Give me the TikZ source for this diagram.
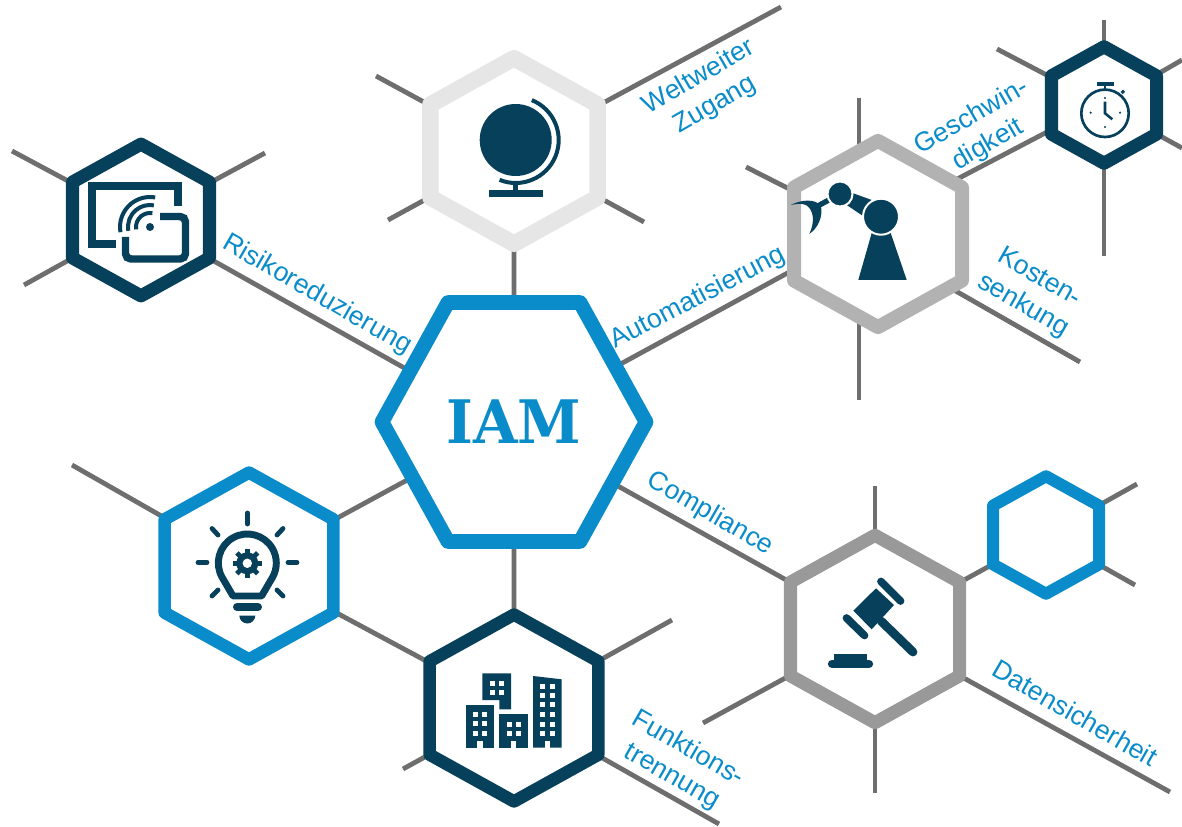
\documentclass[tikz,border=0pt]{standalone}
\usepackage{fontspec}
\setmainfont{Liberation Sans}
\newfontfamily\slabfont{DejaVu Serif}
\usetikzlibrary{shapes.geometric,backgrounds}

\definecolor{iamblue}{HTML}{0A8CCB}
\definecolor{iamdark}{HTML}{07405B}
\definecolor{linkgray}{HTML}{6E6E6E}
\definecolor{hexlight}{HTML}{E6E6E6}
\definecolor{hexmid}{HTML}{B2B2B2}
\definecolor{hexgray}{HTML}{999999}

\tikzset{
    hexbase/.style={regular polygon, regular polygon sides=6, draw, fill=white, line join=round, inner sep=0pt, outer sep=0pt, transform shape},
    hexcell/.style={hexbase, regular polygon rotate=30, yscale=0.96},
    link/.style={draw=linkgray, line width=3.6pt},
    lbl/.style={text=iamblue, align=center, inner sep=0pt, font=\fontsize{20}{24}\selectfont},
    icon/.style={fill=iamdark, draw=none},
    iconline/.style={draw=iamdark, fill=none},
    gap/.style={fill=white, draw=none}
}

\begin{document}
\begin{tikzpicture}[x=0.75pt, y=-0.75pt]
    \useasboundingbox (0,0) rectangle (1182,827);

    \node[hexbase, xscale=0.957, draw=iamblue, line width=11pt, minimum size=207pt, font=\slabfont\bfseries\fontsize{45}{45}\selectfont, text=iamblue] (hub) at (514,422) {IAM};
    \node[hexcell, draw=hexlight, line width=12.4pt, minimum size=145pt] (globe) at (514,151) {};
    \node[hexcell, draw=iamdark, line width=9.8pt, minimum size=118.6pt] (risk) at (141,220) {};
    \node[hexcell, draw=hexmid, line width=10.5pt, minimum size=145.5pt] (robot) at (878,234) {};
    \node[hexcell, draw=iamdark, line width=9.8pt, minimum size=91pt] (watch) at (1104,105) {};
    \node[hexcell, draw=iamblue, line width=9.4pt, minimum size=146pt] (bulb) at (249,566) {};
    \node[hexcell, draw=iamdark, line width=9.4pt, minimum size=146pt] (city) at (514,708) {};
    \node[hexcell, draw=hexgray, line width=9.8pt, minimum size=146.4pt] (gavel) at (875,629) {};
    \node[hexcell, draw=iamblue, line width=9pt, minimum size=91.8pt] (spare) at (1046,535) {};

    \coordinate (globeNW) at (376,76);
    \coordinate (globeSW) at (388,220);
    \coordinate (globeNE) at (781,7);
    \coordinate (globeSE) at (644,222);
    \coordinate (riskNW) at (12,151);
    \coordinate (riskNE) at (265,153);
    \coordinate (riskSW) at (24,285);
    \coordinate (riskSE) at (212,260);
    \coordinate (hubW) at (440,388);
    \coordinate (hubNE) at (560,397);
    \coordinate (hubSE) at (560,453.7);
    \coordinate (robotN) at (859,98);
    \coordinate (robotS) at (859,400);
    \coordinate (robotNW) at (746,167);
    \coordinate (robotW) at (850,239);
    \coordinate (robotNE) at (900,209);
    \coordinate (robotSEa) at (940,282);
    \coordinate (robotSE) at (1080,362);
    \coordinate (watchSW) at (1070,120);
    \coordinate (watchN) at (1104,20);
    \coordinate (watchS) at (1104,256);
    \coordinate (watchNW) at (997,49);
    \coordinate (watchNE) at (1182,60);
    \coordinate (watchSE) at (1182,148);
    \coordinate (bulbNW) at (72,465);
    \coordinate (cityNE) at (672,620);
    \coordinate (citySE) at (719,824);
    \coordinate (citySW) at (403,769);
    \coordinate (gavelN) at (875,486);
    \coordinate (gavelS) at (875,793);
    \coordinate (gavelNW) at (840,610);
    \coordinate (gavelSW) at (703,723);
    \coordinate (gavelSE) at (1170,792);
    \coordinate (spareNE) at (1137,484);
    \coordinate (spareSE) at (1135,585);

    \begin{scope}[on background layer]
        \draw[link] (globe) -- (globeNW);
        \draw[link] (globe) -- (globeSW);
        \draw[link] (globe) -- (globeNE);
        \draw[link] (globe) -- (globeSE);
        \draw[link] (globe) -- (hub);
        \draw[link] (risk) -- (riskNW);
        \draw[link] (risk) -- (riskNE);
        \draw[link] (risk) -- (riskSW);
        \draw[link] (riskSE) -- (hubW);
        \draw[link] (robotN) -- (robotS);
        \draw[link] (robot) -- (robotNW);
        \draw[link] (robotSEa) -- (robotSE);
        \draw[link] (robotW) -- (hubNE);
        \draw[link] (robotNE) -- (watchSW);
        \draw[link] (watchN) -- (watchS);
        \draw[link] (watch) -- (watchNW);
        \draw[link] (watch) -- (watchNE);
        \draw[link] (watch) -- (watchSE);
        \draw[link] (bulb) -- (bulbNW);
        \draw[link] (bulb) -- (hub);
        \draw[link] (bulb) -- (city);
        \draw[link] (city) -- (hub);
        \draw[link] (city) -- (cityNE);
        \draw[link] (city) -- (citySE);
        \draw[link] (city) -- (citySW);
        \draw[link] (gavelN) -- (gavelS);
        \draw[link] (gavelNW) -- (hubSE);
        \draw[link] (gavel) -- (gavelSW);
        \draw[link] (gavel) -- (gavelSE);
        \draw[link] (gavel) -- (spare);
        \draw[link] (spare) -- (spareNE);
        \draw[link] (spare) -- (spareSE);
    \end{scope}

    \node[lbl, rotate=30] (lblworld) at (707,91) {Weltweiter\\Zugang};
    \node[lbl, rotate=-30] (lblrisk) at (317,295) {Risikoreduzierung};
    \node[lbl, rotate=27.5] (lblauto) at (698,298) {Automatisierung};
    \node[lbl, rotate=30] (lblspeed) at (980,131) {Geschwin-\\digkeit};
    \node[lbl, rotate=-30] (lblcost) at (1031,292) {Kosten-\\senkung};
    \node[lbl, rotate=-30] (lblcomp) at (710,514) {Compliance};
    \node[lbl, rotate=-30] (lblsafe) at (1075,713) {Datensicherheit};
    \node[lbl, rotate=-30] (lblsplit) at (680,763) {Funktions-\\trennung};

    % globe
    \fill[icon] (515.7,140) circle (36);
    \draw[iconline, line width=3pt] ([shift={(-68:43)}]515.7,140) arc (-68:112:43);
    \draw[iconline, line width=3.6pt] (515.7,183) -- (515.7,191);
    \fill[icon] (489,190) rectangle (542.7,196.7);

    % risk
    \draw[iconline, line width=6pt] (178,206) -- (178,186) -- (92,186) -- (92,244) -- (116,244);
    \draw[iconline, line width=5.6pt, rounded corners=4pt] (160,216.5) -- (185.5,216.5) -- (185.5,259) -- (125.5,259) -- (125.5,237);
    \fill[icon] (150,227) circle (4);
    \draw[iconline, line width=3pt] ([shift={(170:14)}]150,227) arc (170:280:14);
    \draw[iconline, line width=3pt] ([shift={(170:22)}]150,227) arc (170:280:22);
    \draw[iconline, line width=3pt] ([shift={(170:30)}]150,227) arc (170:280:30);

    % robot
    \fill[icon] (858.3,280) -- (906.7,280) -- (890.7,233) -- (871.7,233) -- cycle;
    \fill[icon] (853.3,193.3) -- (871.7,200) -- (863,216) -- (846.7,205) -- cycle;
    \draw[iconline, line width=4pt] (840,194) -- (814,208);
    \fill[icon] (790.7,205) .. controls (800,200) and (815,198) .. (821,206) .. controls (823,217) and (818,228) .. (809.3,234) .. controls (815,222) and (814,210) .. (806,205) .. controls (801,203) and (796,204) .. (790.7,205) -- cycle;
    \draw[icon, draw=white, line width=1.5pt] (840,194) circle (12.5);
    \draw[icon, draw=white, line width=1.5pt] (881,216.7) circle (18);

    % stopwatch
    \draw[iconline, line width=2pt] (1105,113.3) circle (23.7);
    \fill[icon] (1096.7,81.7) rectangle (1114,85.7);
    \draw[iconline, line width=2.2pt] (1105,85) -- (1105,90);
    \draw[iconline, line width=2.2pt] (1121.7,93) -- (1124,90.7);
    \draw[iconline, line width=1.9pt] (1105,101.7) -- (1105,113.3) -- (1112.3,119.3);
    \fill[icon] (1105,98) circle (1.2);
    \fill[icon] (1090.7,112.7) circle (1.2);
    \fill[icon] (1120,112.7) circle (1.2);
    \fill[icon] (1105,127) circle (1.2);

    % bulb
    \draw[iconline, line width=5.2pt, line join=round] (233,596) -- (222.2,577.5) arc (150:390:29) -- (261.6,596) -- cycle;
    \draw[iconline, line width=3.6pt, line cap=round] (247.3,513) -- (247.3,524);
    \draw[iconline, line width=3.6pt, line cap=round] (198,562.3) -- (207,562.3);
    \draw[iconline, line width=3.6pt, line cap=round] (288,562.3) -- (297,562.3);
    \draw[iconline, line width=3.6pt, line cap=round] (212,528.5) -- (218,535);
    \draw[iconline, line width=3.6pt, line cap=round] (283,528.5) -- (277,535);
    \draw[iconline, line width=3.6pt, line cap=round] (212,596) -- (218,590);
    \draw[iconline, line width=3.6pt, line cap=round] (283,596) -- (277,590);
    \draw[iconline, line width=6pt, line cap=round] (237,607) -- (258,607);
    \fill[icon] (239.3,615.5) -- (255.3,615.5) arc (0:180:8) -- cycle;
    \fill[icon] (247.3,563.3) circle (11);
    \foreach \ang in {0,45,...,315} {
        \draw[iconline, line width=3.6pt] (247.3,563.3) -- ++(\ang:14.7);
    }
    \fill[gap] (247.3,563.3) circle (4.7);

    % city
    \fill[icon] (482.3,673.3) -- (511,673.3) -- (511,709.3) -- (499.3,709.3) -- (499.3,700) -- (482.3,700) -- cycle;
    \fill[icon] (465.7,704.7) rectangle (494.3,747.7);
    \fill[icon] (499.3,714.3) rectangle (528.3,747.7);
    \fill[icon] (533,676) -- (561.7,679.3) -- (561.7,747.7) -- (533,747.7) -- cycle;
    \foreach \wx/\wy in {489.7/680.7, 499/680.7, 489.7/690, 499/690, 473/712, 482.3/712, 473/721.3, 482.3/721.3, 473/731, 482.3/731, 506.7/721.7, 516/721.7, 506.7/731, 516/731, 540.3/684, 549.7/684, 540.3/692.7, 549.7/692.7, 540.3/702.3, 549.7/702.3, 540.3/711.7, 549.7/711.7, 540.3/721.7, 549.7/721.7, 540.3/731, 549.7/731} {
        \fill[gap] (\wx,\wy) rectangle ++(5,5);
    }
    \fill[gap] (477.3,740.7) rectangle (482.7,747.7);
    \fill[gap] (511,740.7) rectangle (516,747.7);
    \fill[gap] (544.7,740.7) rectangle (549.7,747.7);

    % gavel
    \fill[icon] (876,588.3) -- (894,605) -- (871.7,629.3) -- (853.3,610.7) -- cycle;
    \draw[iconline, line width=6.6pt, line cap=round] (881,621) -- (913,652);
    \draw[iconline, line width=5.8pt, line cap=round] (881,581.5) -- (900.5,601);
    \draw[iconline, line width=5.8pt, line cap=round] (846.5,618) -- (864.5,635.5);
    \draw[iconline, line width=6.2pt, line cap=round] (832,664) -- (869,664);
    \fill[icon] (834.3,654.3) rectangle (866.7,660);
\end{tikzpicture}
\end{document}
